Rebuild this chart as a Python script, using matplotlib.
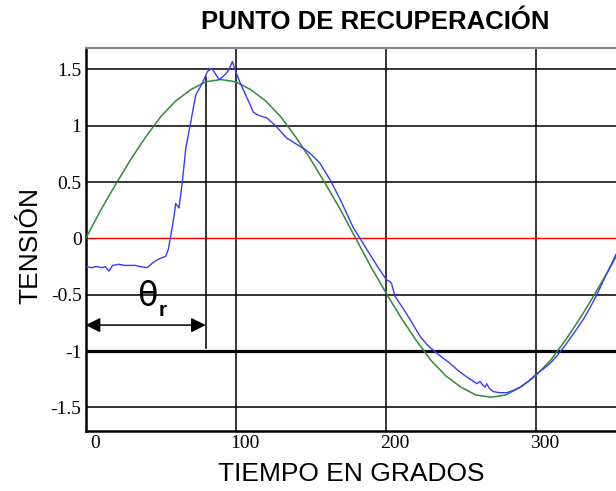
import matplotlib
matplotlib.use('Agg')
import matplotlib.pyplot as plt
import matplotlib.transforms as mtransforms

# data
green_x = [0, 10, 20, 30, 40, 50, 60, 70, 80, 90, 100, 110, 120, 130, 140, 150, 160, 170, 180,
           190, 200, 210, 220, 230, 240, 250, 260, 270, 280, 290, 300, 310, 320, 330, 340, 350, 360]
green_y = [0.0, 0.25, 0.48, 0.70, 0.90, 1.08, 1.22, 1.32, 1.39, 1.41, 1.39, 1.32, 1.22, 1.08, 0.90, 0.70, 0.48, 0.25, 0.0,
           -0.25, -0.48, -0.70, -0.90, -1.08, -1.22, -1.32, -1.39, -1.41, -1.39, -1.32, -1.22, -1.08, -0.90, -0.70, -0.48, -0.25, 0.0]

blue_x = [0, 4, 7, 11, 13, 15.5, 18, 22, 26, 29, 33, 36, 41, 44.4, 47.8, 51, 53.3, 55, 56.7, 58.9,
          60, 62.2, 64.4, 66.7, 70, 73.3, 77.8, 81.1, 84, 86.5, 88.9, 91, 93.3, 95.5, 97.8, 100,
          102.7, 106.7, 109.5, 111.7, 115.6, 120.7, 127.3, 134, 140, 145, 150, 156, 162.9, 169.5,
          174, 178.4, 182.9, 187, 191.7, 196, 200.7, 202.5, 203.9, 206, 211, 216.2, 222.9, 228,
          234, 238, 242.9, 248, 254, 257.5, 260.7, 262.9, 264.5, 266.2, 267.3, 269, 271.7, 276,
          280.7, 285, 289.5, 295, 300.7, 305, 309.5, 315, 320.7, 326, 331.7, 336, 340.7, 346, 351.8, 354]
blue_y = [-0.25, -0.26, -0.25, -0.26, -0.25, -0.29, -0.24, -0.23, -0.24, -0.24, -0.24, -0.25, -0.26, -0.22,
          -0.19, -0.17, -0.16, -0.10, 0.02, 0.20, 0.31, 0.27, 0.50, 0.80, 1.03, 1.27, 1.38, 1.48, 1.51,
          1.46, 1.41, 1.43, 1.46, 1.50, 1.57, 1.48, 1.39, 1.27, 1.19, 1.12, 1.09, 1.07, 0.99, 0.89, 0.84,
          0.80, 0.75, 0.67, 0.52, 0.35, 0.22, 0.095, 0.0, -0.09, -0.19, -0.28, -0.37, -0.38, -0.40, -0.51,
          -0.61, -0.72, -0.87, -0.95, -1.02, -1.06, -1.11, -1.17, -1.23, -1.26, -1.29, -1.27, -1.30, -1.32,
          -1.29, -1.33, -1.36, -1.37, -1.37, -1.35, -1.32, -1.27, -1.20, -1.16, -1.11, -1.03, -0.93, -0.83,
          -0.72, -0.62, -0.50, -0.35, -0.19, -0.13]

y_ticks = [-1.5, -1, -0.5, 0, 0.5, 1, 1.5]
y_labels = ['-1.5', '-1', '-0.5', '0', '0.5', '1', '1.5']
x_ticks = [0, 100, 200, 300]
x_labels = ['0', '100', '200', '300']

theta_r = 80          # recovery angle
theta_top = 1.43
theta_bottom = -0.97
arrow_y = -0.77

W, H = 616, 491
fig = plt.figure(figsize=(W / 100, H / 100), dpi=100)
ax = fig.add_axes([85.7 / W, 60 / H, (W - 85.7) / W, 383 / H])
ax.set_xlim(0, 353.5)
ax.set_ylim(-1.71, 1.69)

# grid
for yv in [-1.5, -0.5, 0.5, 1, 1.5]:
    ax.axhline(yv, color='black', lw=1.1, zorder=1)
ax.axhline(-1, color='black', lw=2.3, zorder=1)
ax.axhline(0, color='red', lw=1.0, zorder=2)
for xv in [100, 200, 300]:
    ax.axvline(xv, color='black', lw=1.1, zorder=1)

ax.plot(green_x, green_y, color='#2e8b3a', lw=1.1, zorder=3)
ax.plot(blue_x, blue_y, color='#3a3aff', lw=1.0, zorder=4)

# recovery point marker + arrow
ax.plot([theta_r, theta_r], [theta_bottom, theta_top], color='black', lw=1.1, zorder=2)
ax.annotate('', xy=(theta_r, arrow_y), xytext=(0, arrow_y),
            arrowprops=dict(arrowstyle='<|-|>', color='black', lw=1.1,
                            mutation_scale=22, shrinkA=0, shrinkB=0), zorder=5)
ax.text(41, -0.52, 'θ', fontsize=24, family='DejaVu Sans', ha='center', va='center')
ax.text(51.5, -0.64, 'r', fontsize=15, fontweight='bold', family='Liberation Sans',
        ha='center', va='center')

# spines / ticks
ax.spines['right'].set_visible(False)
ax.spines['top'].set_color('#888888')
ax.spines['top'].set_linewidth(1.5)
ax.spines['left'].set_linewidth(1.8)
ax.spines['bottom'].set_linewidth(1.8)
ax.set_yticks(y_ticks)
ax.set_yticklabels(y_labels, family='Liberation Serif', fontsize=14)
ax.set_xticks(x_ticks)
ax.set_xticklabels(x_labels, family='Liberation Serif', fontsize=14)
ax.tick_params(length=0, pad=3)
offset = mtransforms.ScaledTranslation(9 / 100, 0, fig.dpi_scale_trans)
for lbl in ax.get_xticklabels():
    lbl.set_transform(lbl.get_transform() + offset)

fig.text(375 / W, 1 - 22 / H, 'PUNTO DE RECUPERACIÓN', fontsize=18.5, fontweight='bold',
         family='Liberation Sans', ha='center', va='center')
fig.text(351 / W, 1 - 474 / H, 'TIEMPO EN GRADOS', fontsize=19, family='Liberation Sans',
         ha='center', va='center')
fig.text(30 / W, 1 - 245 / H, 'TENSIÓN', fontsize=19, family='Liberation Sans',
         rotation=90, ha='center', va='center')

fig.savefig('out.png', dpi=100)
